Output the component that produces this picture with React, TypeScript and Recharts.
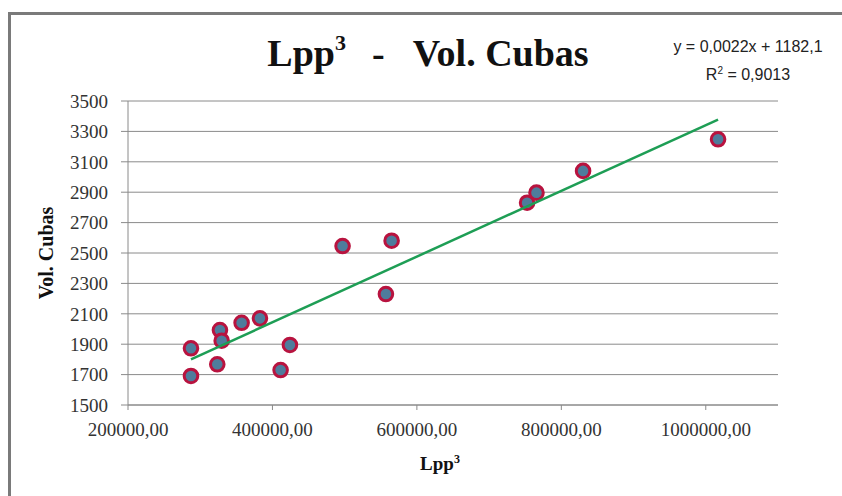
import React from "react";
import { ScatterChart, Scatter, XAxis, YAxis, CartesianGrid, Label, Customized } from "recharts";

const lppCubed = [287200, 287200, 327300, 329700, 323600, 357300, 382700, 424200, 411300, 497100, 565000, 557100, 752600, 765600, 830100, 1017000];
const volCubas = [1873, 1691, 1993, 1923, 1768, 2041, 2070, 1895, 1730, 2546, 2581, 2230, 2831, 2897, 3040, 3248];
const trendX = [287200, 1017000];
const trendY = [1800, 3378];
const xTicks = [200000, 400000, 600000, 800000, 1000000];
const yTicks = [1500, 1700, 1900, 2100, 2300, 2500, 2700, 2900, 3100, 3300, 3500];

const points = lppCubed.map((x, i) => ({ x, y: volCubas[i] }));
const trend = trendX.map((x, i) => ({ x, y: trendY[i] }));

const serif = "'Liberation Serif', 'Times New Roman', serif";
const narrow = "'Liberation Sans Narrow', 'Liberation Sans', sans-serif";

const Dot = (props: any) => {
  const { cx, cy } = props;
  return <circle cx={cx} cy={cy} r={6.8} fill="#4e7c9c" stroke="#b8133f" strokeWidth={3} />;
};

const Empty = () => <g />;

const Overlay = () => (
  <g>
    <text x={428} y={66} textAnchor="middle" fontFamily={serif} fontWeight="bold" fontSize={38} fill="#111">
      <tspan>Lpp</tspan>
      <tspan fontSize={22} dy={-16}>3</tspan>
      <tspan dy={16} dx={26}>-</tspan>
      <tspan dx={28}>Vol. Cubas</tspan>
    </text>
    <text x={748} y={52} textAnchor="middle" fontFamily={narrow} fontSize={16} fill="#222">
      y = 0,0022x + 1182,1
    </text>
    <text x={748} y={80} textAnchor="middle" fontFamily={narrow} fontSize={16} fill="#222">
      <tspan>R</tspan>
      <tspan fontSize={10} dy={-6}>2</tspan>
      <tspan dy={6}> = 0,9013</tspan>
    </text>
    <text x={440} y={470} textAnchor="middle" fontFamily={serif} fontWeight="bold" fontSize={19} fill="#111">
      <tspan>Lpp</tspan>
      <tspan fontSize={12} dy={-7}>3</tspan>
    </text>
  </g>
);

export default function App() {
  return (
    <div style={{ position: "absolute", left: 0, top: 0, width: 842, height: 496, background: "#fff", overflow: "hidden" }}>
      <div
        style={{
          position: "absolute",
          left: 8,
          top: 12,
          width: 850,
          height: 500,
          borderLeft: "3px solid #7a7a7a",
          borderTop: "3px solid #7a7a7a",
          boxSizing: "border-box",
        }}
      />
      <div style={{ position: "absolute", left: 0, top: 0 }}>
        <ScatterChart width={842} height={496} margin={{ top: 101, right: 64, bottom: 41, left: 58 }}>
          <CartesianGrid vertical={false} stroke="#8a8a8a" strokeWidth={1} />
          <XAxis
            type="number"
            dataKey="x"
            domain={[200000, 1100000]}
            ticks={xTicks}
            allowDataOverflow
            tickFormatter={(v: number) => `${v},00`}
            stroke="#8a8a8a"
            tickSize={5}
            tickMargin={13}
            height={50}
            tick={{ fill: "#333", fontFamily: serif, fontSize: 19 }}
          />
          <YAxis
            type="number"
            dataKey="y"
            domain={[1500, 3500]}
            ticks={yTicks}
            allowDataOverflow
            stroke="#8a8a8a"
            tickSize={7}
            tickMargin={13}
            width={70}
            tick={{ fill: "#333", fontFamily: serif, fontSize: 19 }}
          >
            <Label
              value="Vol. Cubas"
              angle={-90}
              position="insideLeft"
              offset={-12}
              style={{ fontFamily: serif, fontWeight: "bold", fontSize: 20, fill: "#111", textAnchor: "middle" }}
            />
          </YAxis>
          <Scatter data={points} shape={Dot} isAnimationActive={false} />
          <Scatter
            data={trend}
            line={{ stroke: "#1e9e55", strokeWidth: 2.5 }}
            lineType="joint"
            shape={Empty}
            isAnimationActive={false}
          />
          <Customized component={Overlay} />
        </ScatterChart>
      </div>
    </div>
  );
}
